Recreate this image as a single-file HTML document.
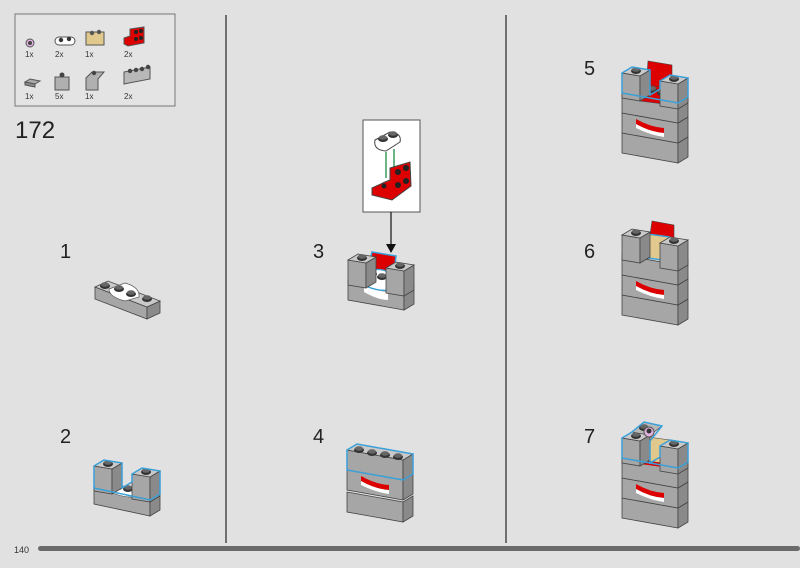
<!DOCTYPE html><html><head><style>body{margin:0;background:#e1e1e1}svg{display:block}</style></head><body>
<svg width="800" height="568" viewBox="0 0 800 568" xmlns="http://www.w3.org/2000/svg" font-family="Liberation Sans, sans-serif">
<defs>
<g id="L"><polygon points="0,0 56,10 56,30 0,20" fill="#a6a6a6" stroke="#444" stroke-width="0.8"/><polygon points="56,10 66,4 66,24 56,30" fill="#8a8a8a" stroke="#444" stroke-width="0.8"/></g>
<g id="T"><polygon points="0,0 10,-6 66,4 56,10" fill="#c9c9c9" stroke="#444" stroke-width="0.8"/></g>
<g id="S"><ellipse cx="0" cy="0" rx="5" ry="3" fill="#333"/><ellipse cx="0" cy="-1.5" rx="4" ry="2.3" fill="#666"/></g>
<g id="C"><polygon points="0,0 18,3 18,28 0,25" fill="#a6a6a6" stroke="#444" stroke-width="0.8"/><polygon points="18,3 28,-3 28,22 18,28" fill="#8a8a8a" stroke="#444" stroke-width="0.8"/><polygon points="0,0 10,-6 28,-3 18,3" fill="#c9c9c9" stroke="#444" stroke-width="0.8"/><use href="#S" x="14" y="-2"/></g>
<g id="R"><path d="M14,6 Q28,14 42,15 L42,20 Q28,19 14,11Z" fill="#d00" /><path d="M14,11 Q28,19 42,20 L42,24 Q28,22 14,15Z" fill="#fff"/></g>
</defs>
<rect x="15" y="14" width="160" height="92" fill="#e4e4e4" stroke="#777" stroke-width="1"/>
<g font-size="8" fill="#333">
<circle cx="30" cy="43" r="4" fill="#e3b3e0" stroke="#555"/><circle cx="30" cy="43" r="2" fill="#444"/><text x="25" y="57">1x</text>
<rect x="55" y="37" width="20" height="8" rx="4" fill="#fff" stroke="#555"/><circle cx="61" cy="40" r="2.2" fill="#333"/><circle cx="69" cy="39" r="2.2" fill="#333"/><text x="55" y="57">2x</text>
<rect x="86" y="32" width="18" height="13" fill="#e1c98d" stroke="#555"/><circle cx="92" cy="33" r="2.2" fill="#555"/><circle cx="99" cy="32" r="2.2" fill="#555"/><text x="85" y="57">1x</text>
<path d="M124,38 L130,36 L130,29 L144,27 L144,43 L128,46 L124,44Z" fill="#d00" stroke="#555"/><circle cx="136" cy="32" r="2" fill="#222"/><circle cx="141" cy="31" r="2" fill="#222"/><circle cx="136" cy="39" r="2" fill="#222"/><circle cx="141" cy="38" r="2" fill="#222"/><text x="124" y="57">2x</text>
<polygon points="25,82 30,79 40,81 35,84" fill="#aaa" stroke="#555"/><polygon points="25,82 35,84 35,87 25,85" fill="#888" stroke="#555"/><text x="25" y="99">1x</text>
<rect x="55" y="77" width="14" height="13" fill="#b0b0b0" stroke="#555"/><circle cx="62" cy="75" r="2.5" fill="#444"/><text x="55" y="99">5x</text>
<path d="M86,78 L92,72 L104,72 L98,79 L98,90 L86,90Z" fill="#b0b0b0" stroke="#555"/><circle cx="94" cy="73" r="2.2" fill="#444"/><text x="85" y="99">1x</text>
<path d="M124,72 L150,67 L150,79 L124,84Z" fill="#b8b8b8" stroke="#555"/><circle cx="130" cy="71" r="2.2" fill="#444"/><circle cx="136" cy="70" r="2.2" fill="#444"/><circle cx="142" cy="69" r="2.2" fill="#444"/><circle cx="148" cy="67" r="2.2" fill="#444"/><text x="124" y="99">2x</text>
</g>
<text x="15" y="138" font-size="24" fill="#222">172</text>
<line x1="226" y1="15" x2="226" y2="543" stroke="#333" stroke-width="1.3"/>
<line x1="506" y1="15" x2="506" y2="543" stroke="#333" stroke-width="1.3"/>
<rect x="38" y="546" width="762" height="5" rx="2.5" fill="#6a6a6a"/>
<text x="14" y="553" font-size="9" fill="#333">140</text>
<g font-size="20" fill="#222">
<text x="60" y="258">1</text><text x="60" y="443">2</text><text x="313" y="258">3</text><text x="313" y="443">4</text><text x="584" y="75">5</text><text x="584" y="258">6</text><text x="584" y="443">7</text></g>

<!-- step1 -->
<g transform="translate(95,287)">
<polygon points="0,0 52,20 52,32 0,12" fill="#a6a6a6" stroke="#444" stroke-width="0.8"/><polygon points="52,20 65,14 65,26 52,32" fill="#8a8a8a" stroke="#444" stroke-width="0.8"/><polygon points="0,0 13,-6 65,14 52,20" fill="#c9c9c9" stroke="#444" stroke-width="0.8"/>
<path d="M14,2 L30,-4 Q45,0 44,10 L30,14 Q14,10 14,2Z" fill="#fff" stroke="#555" stroke-width="0.7"/>
<use href="#S" x="10" y="-1"/><use href="#S" x="24" y="2"/><use href="#S" x="36" y="7"/><use href="#S" x="52" y="12"/>
</g>
<!-- step2 -->
<g transform="translate(94,488)">
<polygon points="0,0 56,12 56,28 0,16" fill="#a6a6a6" stroke="#444" stroke-width="0.8"/><polygon points="56,12 66,6 66,22 56,28" fill="#8a8a8a" stroke="#444" stroke-width="0.8"/>
<path d="M16,0 Q30,-6 42,4 L42,9 Q30,10 16,4Z" fill="#fff" stroke="#555" stroke-width="0.6"/><use href="#S" x="24" y="-1"/><use href="#S" x="34" y="1"/>
<use href="#C" x="0" y="-22"/><use href="#C" x="38" y="-14"/>
<path d="M0,-22 L10,-28 L28,-25 L28,0 L38,-6 L38,-14 L48,-20 L66,-17 L66,6 L56,12 L0,0Z" fill="none" stroke="#3aa0d8" stroke-width="1.5"/>
</g>
<!-- step3 callout -->
<rect x="363" y="120" width="57" height="92" fill="#fff" stroke="#555"/>
<path d="M375,140 L390,132 Q402,133 400,142 L386,151 Q373,150 375,140Z" fill="#fff" stroke="#444"/><use href="#S" x="383" y="139"/><use href="#S" x="393" y="135"/>
<line x1="386" y1="152" x2="386" y2="178" stroke="#3a9a5a" stroke-width="1.5"/><line x1="394" y1="149" x2="394" y2="170" stroke="#3a9a5a" stroke-width="1.5"/>
<path d="M372,188 L385,182 L390,180 L390,168 L410,162 L411,186 L392,200 L372,195Z" fill="#d00" stroke="#444"/><circle cx="398" cy="172" r="3" fill="#222"/><circle cx="406" cy="168" r="3" fill="#222"/><circle cx="398" cy="185" r="3" fill="#222"/><circle cx="406" cy="181" r="3" fill="#222"/><circle cx="384" cy="186" r="2.5" fill="#222"/>
<line x1="391" y1="212" x2="391" y2="248" stroke="#111" stroke-width="1.2"/><polygon points="386,244 396,244 391,253" fill="#111"/>
<!-- step3 -->
<g transform="translate(348,280)">
<use href="#L" x="0" y="0"/><path d="M16,4 Q30,12 40,12 L40,20 Q30,20 16,12Z" fill="#fff"/>
<polygon points="20,-12 24,-28 48,-24 46,-6" fill="#d00" stroke="#3aa0d8" stroke-width="1.5"/>
<path d="M14,-4 Q28,-16 44,-6 L44,10 Q28,12 14,4Z" fill="#fff" stroke="#3aa0d8" stroke-width="1.3"/><use href="#S" x="24" y="-6"/><use href="#S" x="34" y="-3"/>
<use href="#C" x="0" y="-20"/><use href="#C" x="38" y="-12"/>
</g>
<!-- step4 -->
<g transform="translate(347,470)">
<use href="#L" x="0" y="0"/><use href="#R" x="0" y="0"/><use href="#L" x="0" y="22" /><use href="#L" x="0" y="-20"/><use href="#T" x="0" y="-20"/>
<use href="#S" x="12" y="-20"/><use href="#S" x="25" y="-17"/><use href="#S" x="38" y="-15"/><use href="#S" x="51" y="-13"/>
<path d="M0,-20 L10,-26 L66,-16 L66,4 L56,10 L0,0Z" fill="none" stroke="#3aa0d8" stroke-width="1.5"/>
</g>
<!-- step5 -->
<g transform="translate(622,93)">
<use href="#L" x="0" y="40"/><use href="#L" x="0" y="20"/><use href="#R" x="0" y="20"/><use href="#L" x="0" y="0"/>
<polygon points="24,-6 26,-32 50,-28 50,-2" fill="#d00" stroke="#444" stroke-width="0.6"/>
<polygon points="18,0 26,-8 50,-4 50,12 18,8" fill="#d00" stroke="#444" stroke-width="0.6"/><use href="#S" x="30" y="-3"/><use href="#S" x="40" y="0"/>
<use href="#C" x="0" y="-20"/><use href="#C" x="38" y="-12"/>
<path d="M0,-20 L10,-26 L28,-23 L28,2 L38,-4 L38,-12 L48,-18 L66,-15 L66,4 L56,10 L0,0Z" fill="none" stroke="#3aa0d8" stroke-width="1.5"/>
</g>
<!-- step6 -->
<g transform="translate(622,275)">
<use href="#L" x="0" y="20"/><use href="#R" x="0" y="0"/><use href="#L" x="0" y="0"/><use href="#R" x="0" y="0"/><use href="#L" x="0" y="-20"/>
<polygon points="28,-40 30,-54 52,-50 52,-36" fill="#d00" stroke="#444" stroke-width="0.6"/>
<polygon points="18,-42 48,-38 48,-14 18,-18" fill="#e1c98d" stroke="#3aa0d8" stroke-width="1.5"/>
<use href="#C" x="0" y="-40"/><use href="#C" x="38" y="-32"/>
</g>
<!-- step7 -->
<g transform="translate(622,478)">
<use href="#L" x="0" y="20"/><use href="#L" x="0" y="0"/><use href="#R" x="0" y="0"/><use href="#L" x="0" y="-20"/>
<polygon points="18,-42 48,-38 48,-14 18,-18" fill="#e1c98d" stroke="#444" stroke-width="0.6"/><polygon points="18,-18 48,-14 48,-10 18,-14" fill="#d00"/>
<use href="#C" x="0" y="-40"/><use href="#C" x="38" y="-32"/>
<path d="M10,-46 L28,-43 L40,-52 L22,-56Z" fill="#b8b8b8" stroke="#444" stroke-width="0.6"/><use href="#S" x="22" y="-50"/>
<circle cx="27" cy="-46" r="5" fill="#e3b3e0" stroke="#555"/><circle cx="27" cy="-47" r="2.5" fill="#333"/>
<path d="M0,-40 L10,-46 L22,-56 L40,-52 L28,-37 L28,-15 L38,-21 L38,-32 L48,-38 L66,-35 L66,-16 L56,-10 L0,-20Z" fill="none" stroke="#3aa0d8" stroke-width="1.5"/>
</g>
</svg>
</body></html>
